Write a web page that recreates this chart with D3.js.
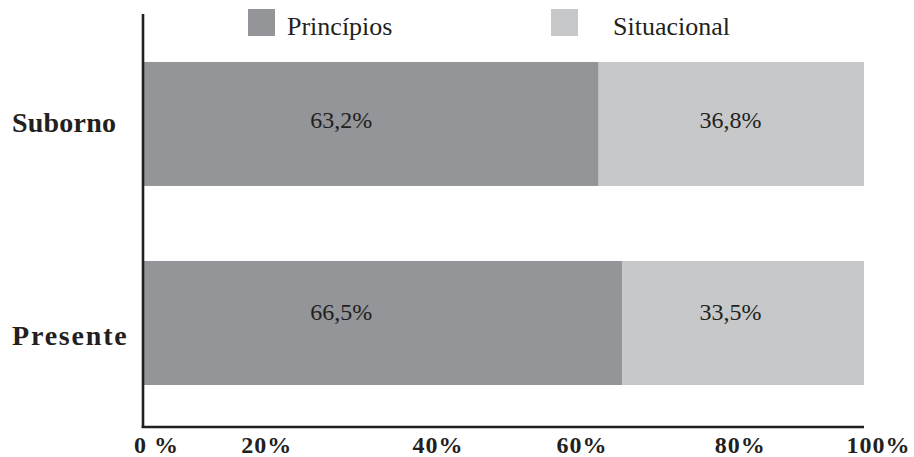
<!DOCTYPE html>
<html><head><meta charset="utf-8">
<script src="https://cdn.jsdelivr.net/npm/d3@7"></script>
<style>
html,body{margin:0;padding:0;background:#fff;}
svg{display:block;}
text{font-family:"Liberation Serif","Times New Roman",serif;fill:#231f20;}
</style></head>
<body><svg id="c" width="914" height="457"></svg>
<script>
const categories = ["Suborno", "Presente"];
const seriesNames = ["Princípios", "Situacional"];
const principios = [63.2, 66.5];
const situacional = [36.8, 33.5];
const tickValues = [0, 20, 40, 60, 80, 100];
const tickLabels = ["0 %", "20%", "40%", "60%", "80%", "100%"];

const colors = ["#939598", "#c7c8ca"];
const svg = d3.select("#c");
const x = d3.scaleLinear().domain([0, 100]).range([143, 864]);
const y = d3.scaleBand().domain(categories).range([14, 427])
  .paddingInner(0.377).paddingOuter(0.226).align(0.533);

const rows = categories.map((c, i) => ({cat: c, vals: [principios[i], situacional[i]]}));

// bars
rows.forEach(r => {
  let acc = 0;
  r.vals.forEach((v, j) => {
    svg.append("rect")
      .attr("x", x(acc)).attr("y", y(r.cat))
      .attr("width", x(acc + v) - x(acc)).attr("height", y.bandwidth())
      .attr("fill", colors[j]);
    acc += v;
  });
});

// value labels (placed at fixed column positions as in the source)
const labelCols = [27.5, 81.5];
const labelDy = [4, -3];
rows.forEach((r, i) => {
  r.vals.forEach((v, j) => {
    svg.append("text")
      .attr("x", x(labelCols[j]))
      .attr("y", y(r.cat) + y.bandwidth() / 2 + labelDy[i])
      .attr("text-anchor", "middle")
      .attr("font-size", 24)
      .text(v.toFixed(1).replace(".", ",") + "%");
  });
});

// axes
const xAxis = d3.axisBottom(x).tickValues(tickValues).tickSize(0)
  .tickFormat((d, i) => tickLabels[i]);
const gx = svg.append("g").attr("transform", "translate(0,427)").call(xAxis);
gx.select(".domain").attr("stroke", "#231f20").attr("stroke-width", 2.6).attr("d", `M${x(0) - 1.3},0H${x(100)}`);
const nudge = [13, -21, 6, 6, 20, 14];
gx.selectAll(".tick text")
  .attr("font-weight", "bold")
  .attr("font-size", 24).attr("letter-spacing", 1).attr("fill", "#231f20")
  .attr("dy", 0).attr("y", 26)
  .attr("dx", (d, i) => nudge[i]);

svg.append("line").attr("x1", x(0)).attr("x2", x(0)).attr("y1", 14).attr("y2", 428)
  .attr("stroke", "#231f20").attr("stroke-width", 2.6);

// category labels
const catDy = [8, 22];
categories.forEach((c, i) => {
  svg.append("text")
    .attr("x", 12).attr("y", y(c) + y.bandwidth() / 2 + catDy[i])
    .attr("font-weight", "bold").attr("font-size", 28)
    .attr("letter-spacing", i === 1 ? 1.8 : 0.2)
    .text(c);
});

// legend
const legendX = [248, 551];
const textX = [287, 613];
seriesNames.forEach((s, j) => {
  svg.append("rect").attr("x", legendX[j]).attr("y", 9).attr("width", 27).attr("height", 27).attr("fill", colors[j]);
  svg.append("text").attr("x", textX[j]).attr("y", 35).attr("font-size", 26).text(s);
});
</script></body></html>
